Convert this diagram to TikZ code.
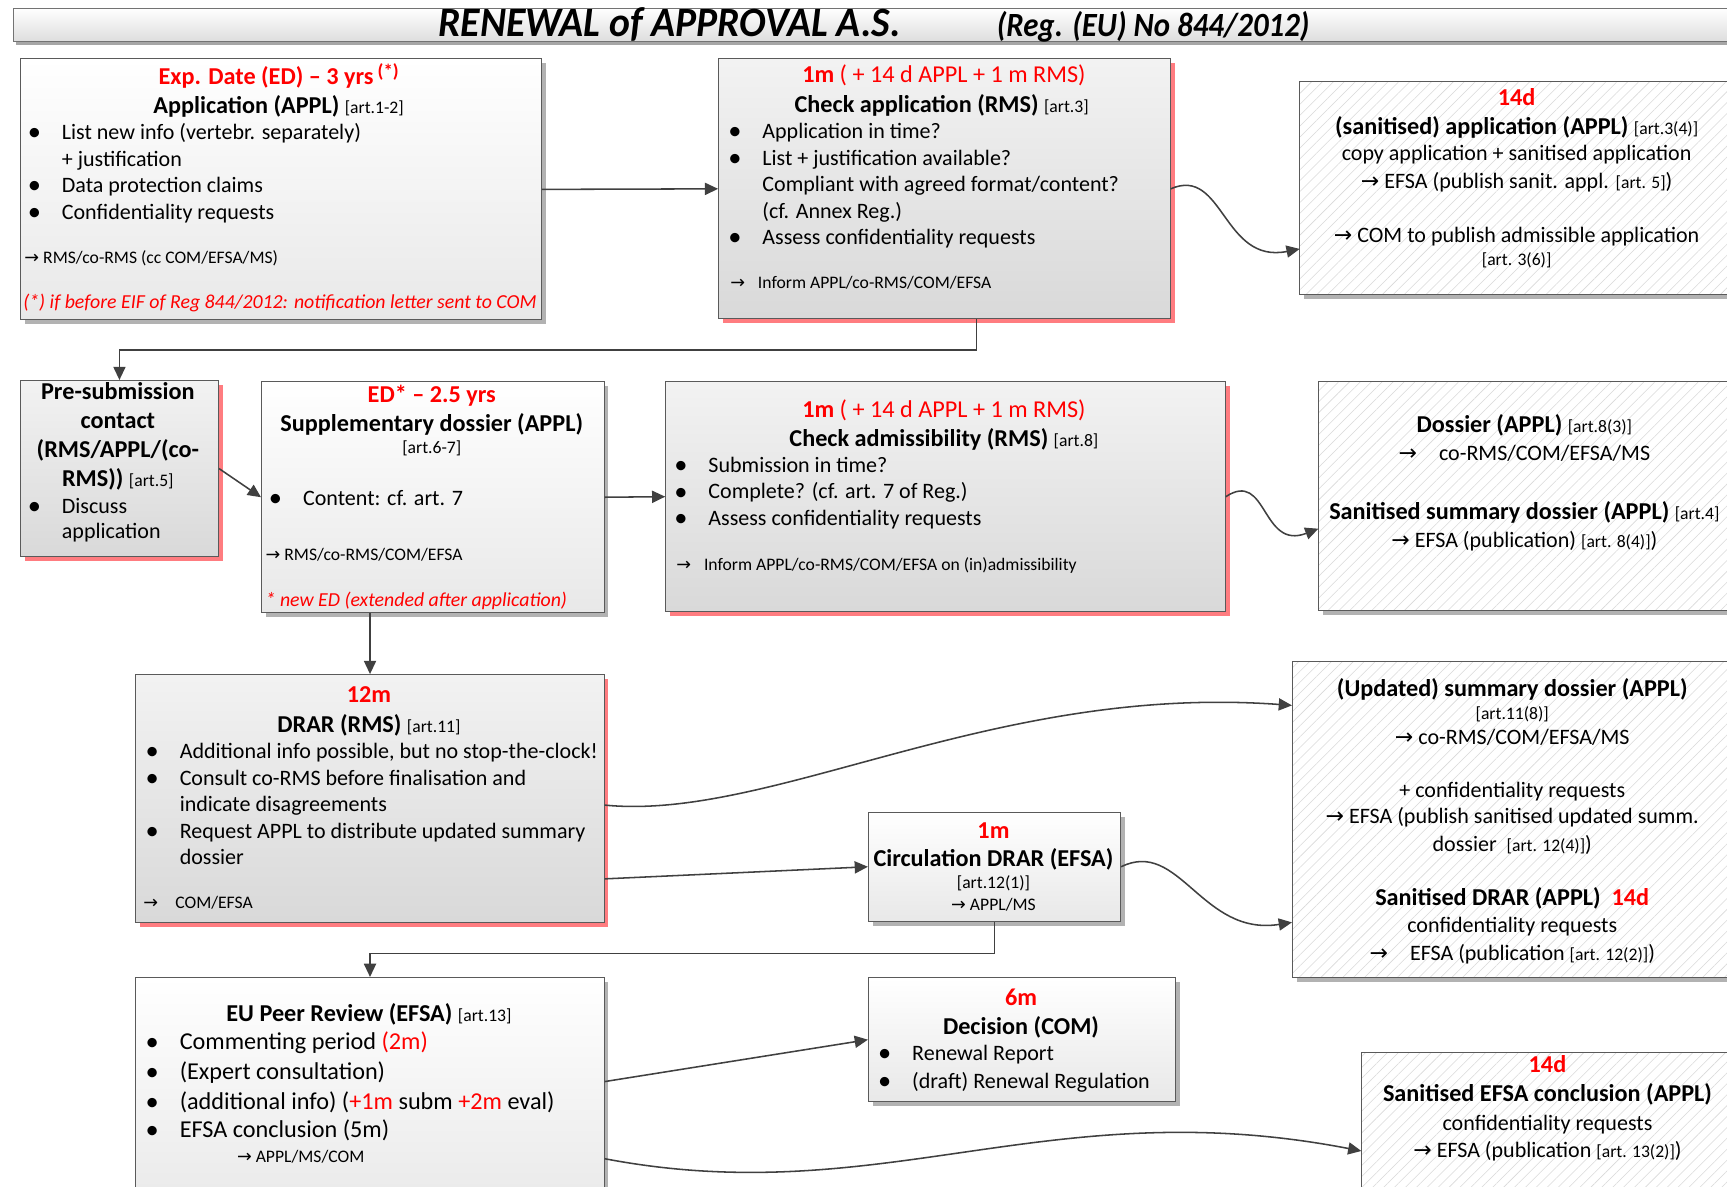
\documentclass[tikz,border=0pt]{standalone}
\usepackage{fontspec}
\usepackage{graphicx}
\setmainfont{Carlito}
\newfontfamily\arrfont{DejaVu Sans}
\usetikzlibrary{arrows.meta,shadows,patterns.meta,calc}
\definecolor{shred}{HTML}{FF7C80}
\definecolor{bord}{HTML}{5A5A5A}
\definecolor{connc}{HTML}{404040}
\newcommand\rd[1]{\textcolor{red}{#1}}
\newcommand\arr{{\arrfont →}}
\newcommand\artref[1]{{\mdseries\upshape\fontsize{16}{19}\selectfont #1}}
\newcommand\bl{\makebox[31pt][l]{\raisebox{-1pt}{\fontsize{24}{24}\selectfont •}}}
\newcommand\nb{\hspace*{31pt}}
\tikzset{
  box/.style={draw=bord, line width=0.9pt, inner sep=0pt, anchor=north west},
  gbox/.style={box, top color=black!5, bottom color=black!15,
    drop shadow={shadow xshift=4pt, shadow yshift=-4pt, fill=shred, opacity=1}},
  wbox/.style={box, top color=white, bottom color=black!9,
    drop shadow={shadow xshift=4pt, shadow yshift=-4pt, fill=black!30, opacity=1}},
  hbox/.style={box, drop shadow={shadow xshift=4pt, shadow yshift=-4pt, fill=black!30, opacity=1},
    preaction={fill=white}, pattern={Lines[angle=45,distance=7pt,line width=0.5pt]}, pattern color=black!15},
  body/.style={font=\fontsize{20}{24}\selectfont, inner sep=0pt},
  bodyL/.style={font=\fontsize{22}{26}\selectfont, inner sep=0pt},
  hd/.style={font=\bfseries\fontsize{22}{26}\selectfont, inner sep=0pt},
  sm/.style={font=\fontsize{16}{19}\selectfont, inner sep=0pt},
  itr/.style={font=\itshape\fontsize{18}{21}\selectfont, inner sep=0pt, text=red},
  rtitle/.style={font=\mdseries\fontsize{22}{26}\selectfont, inner sep=0pt, text=red},
  conn/.style={draw=connc, line width=1.4pt, -{Triangle[length=12pt,width=11pt]}},
}
\begin{document}
\begin{tikzpicture}[x=1pt,y=-1pt]
\useasboundingbox (0,0) rectangle (1568,1077);
\clip (0,0) rectangle (1568,1077);
\fill[white] (0,0) rectangle (1568,1077);

% title bar
\node[box, top color=white, bottom color=black!13, draw=black!55, minimum width=1600pt, minimum height=30pt,
  drop shadow={shadow xshift=2pt, shadow yshift=-3pt, fill=black!35, opacity=1}] (title) at (12,7) {};
\node[font=\bfseries\itshape\fontsize{36}{36}\selectfont, anchor=base, inner sep=0pt] (tt1) at (608,33) {\scalebox{1}[1.05]{RENEWAL of APPROVAL A.S.}};
\node[font=\bfseries\itshape\fontsize{28}{28}\selectfont, anchor=base, inner sep=0pt] (tt2) at (1047,33) {\scalebox{1}[1.1]{(Reg. (EU) No 844/2012)}};

% boxes
\node[wbox, minimum width=473pt, minimum height=237pt] (b1) at (18,53) {};
\node[gbox, minimum width=410pt, minimum height=236pt] (b2) at (652,53) {};
\node[hbox, minimum width=420pt, minimum height=193pt] (b3) at (1180,74) {};
\node[gbox, minimum width=180pt, minimum height=160pt] (b4) at (18,345) {};
\node[wbox, minimum width=311pt, minimum height=210pt] (b5) at (237,346) {};
\node[gbox, minimum width=508pt, minimum height=209pt] (b6) at (604,346) {};
\node[hbox, minimum width=400pt, minimum height=208pt] (b7) at (1197,346) {};
\node[gbox, minimum width=425pt, minimum height=225pt] (b8) at (123,612) {};
\node[hbox, minimum width=420pt, minimum height=287pt] (b9) at (1173,600) {};
\node[wbox, minimum width=229pt, minimum height=99pt] (b10) at (788,737) {};
\node[wbox, minimum width=425pt, minimum height=220pt] (b11) at (123,887) {};
\node[wbox, minimum width=279pt, minimum height=113pt] (b12) at (788,887) {};
\node[hbox, minimum width=360pt, minimum height=150pt] (b13) at (1236,955) {};

% connectors
\draw[conn] (b1.east) -- (b2.west);
\draw[conn] ([xshift=29pt]b2.south) -- ++(0,28) -| (b4.north);
\draw[conn] (b4.east) -- (b5.west);
\draw[conn] (b5.east) -- (b6.west);
\draw[conn] (b8.north |- b5.south) -- (b8.north);
\draw[conn] ([yshift=-73pt]b8.east) -- (b10.west);
\draw[conn] (b10.south) -- ++(0,29) -| (b11.north);
\draw[conn] ([yshift=-95pt]b11.north east) -- (b12.west);
\draw[conn] (b2.east) .. controls +(48,-21) and +(-70,14) .. ([yshift=-152pt]b3.north west);
\draw[conn] (b6.east) .. controls +(38,-25) and +(-52,20) .. ([yshift=-134pt]b7.north west);
\draw[conn] ([yshift=-6pt]b8.east) .. controls +(152,15) and +(-272,-20) .. ([yshift=103.5pt]b9.west);
\draw[conn] (b10.east) .. controls +(53,-26) and +(-82,13) .. ([yshift=-93.5pt]b9.west);
\draw[conn] ([yshift=-165pt]b11.north east) .. controls +(252,48) and +(-285,-55) .. ([yshift=-90pt]b13.north west);

% box 1
\node[hd, text=red, anchor=base] (t1a) at (253,77) {Exp. Date (ED) – 3 yrs\,\raisebox{7pt}{\fontsize{17}{17}\selectfont(*)}};
\node[hd, anchor=base] (t1b) at (253,103) {Application (APPL) \artref{[art.1-2]}};
\node[body, anchor=base west] (t1c) at (25,127) {\bl List new info (vertebr. separately)};
\node[body, anchor=base west] (t1d) at (25,151) {\nb + justification};
\node[body, anchor=base west] (t1e) at (25,175) {\bl Data protection claims};
\node[body, anchor=base west] (t1f) at (25,199) {\bl Confidentiality requests};
\node[sm, anchor=base west] (t1g) at (22,239) {\arr\ RMS/co-RMS (cc COM/EFSA/MS)};
\node[itr, anchor=base west] (t1h) at (21,280) {(*) if before EIF of Reg 844/2012: notification letter sent to COM};

% box 2
\node[rtitle, anchor=base] (t2a) at (857,75) {\textbf{1m} ( + 14 d APPL + 1 m RMS)};
\node[hd, anchor=base] (t2b) at (855,102) {Check application (RMS) \artref{[art.3]}};
\node[body, anchor=base west] (t2c) at (661,126) {\bl Application in time?};
\node[body, anchor=base west] (t2d) at (661,150) {\bl List + justification available?};
\node[body, anchor=base west] (t2e) at (661,174) {\nb Compliant with agreed format/content?};
\node[body, anchor=base west] (t2f) at (661,198) {\nb (cf. Annex Reg.)};
\node[body, anchor=base west] (t2g) at (661,222) {\bl Assess confidentiality requests};
\node[sm, anchor=base west] (t2h) at (663,262) {\makebox[25pt][l]{\arr}Inform APPL/co-RMS/COM/EFSA};

% box 3
\node[hd, text=red, anchor=base] (t3a) at (1377,96) {14d};
\node[hd, anchor=base] (t3b) at (1377,122) {(sanitised) application (APPL) \artref{[art.3(4)]}};
\node[body, anchor=base] (t3c) at (1377,146) {copy application + sanitised application};
\node[body, anchor=base] (t3d) at (1377,171) {\arr\ EFSA (publish sanit. appl. \artref{[art. 5]})};
\node[body, anchor=base] (t3e) at (1377,220) {\arr\ COM to publish admissible application};
\node[sm, anchor=base] (t3f) at (1377,241) {[art. 3(6)]};

% box 4
\node[hd, anchor=base] (t4a) at (107,363) {Pre-submission};
\node[hd, anchor=base] (t4b) at (107,389) {contact};
\node[hd, anchor=base] (t4c) at (107,415) {(RMS/APPL/(co-};
\node[hd, anchor=base] (t4d) at (107,442) {RMS)) \artref{[art.5]}};
\node[body, anchor=base west] (t4e) at (25,466) {\bl Discuss};
\node[body, anchor=base west] (t4f) at (25,489) {\nb application};

% box 5
\node[hd, text=red, anchor=base] (t5a) at (392,365) {ED* – 2.5 yrs};
\node[hd, anchor=base] (t5b) at (392,392) {Supplementary dossier (APPL)};
\node[sm, anchor=base] (t5c) at (392,412) {[art.6-7]};
\node[body, anchor=base west] (t5d) at (244,459) {\bl Content: cf. art. 7};
\node[sm, anchor=base west] (t5e) at (241,509) {\arr\ RMS/co-RMS/COM/EFSA};
\node[itr, anchor=base west] (t5f) at (241,551) {* new ED (extended after application)};

% box 6
\node[rtitle, anchor=base] (t6a) at (857,379) {\textbf{1m} ( + 14 d APPL + 1 m RMS)};
\node[hd, anchor=base] (t6b) at (857,405) {Check admissibility (RMS) \artref{[art.8]}};
\node[body, anchor=base west] (t6c) at (612,429) {\bl Submission in time?};
\node[body, anchor=base west] (t6d) at (612,453) {\bl Complete? (cf. art. 7 of Reg.)};
\node[body, anchor=base west] (t6e) at (612,477) {\bl Assess confidentiality requests};
\node[sm, anchor=base west] (t6f) at (614,518) {\makebox[25pt][l]{\arr}Inform APPL/co-RMS/COM/EFSA on (in)admissibility};

% box 7
\node[hd, anchor=base] (t7a) at (1384,393) {Dossier (APPL) \artref{[art.8(3)]}};
\node[body, anchor=base] (t7b) at (1384,418) {\arr\quad co-RMS/COM/EFSA/MS};
\node[hd, anchor=base] (t7c) at (1384,472) {Sanitised summary dossier (APPL) \artref{[art.4]}};
\node[body, anchor=base] (t7d) at (1384,497) {\arr\ EFSA (publication) \artref{[art. 8(4)]})};

% box 8
\node[hd, text=red, anchor=base] (t8a) at (335,638) {12m};
\node[hd, anchor=base] (t8b) at (335,665) {DRAR (RMS) \artref{[art.11]}};
\node[body, anchor=base west] (t8c) at (132,689) {\bl Additional info possible, but no stop-the-clock!};
\node[body, anchor=base west] (t8d) at (132,713) {\bl Consult co-RMS before finalisation and};
\node[body, anchor=base west] (t8e) at (132,737) {\nb indicate disagreements};
\node[body, anchor=base west] (t8f) at (132,761) {\bl Request APPL to distribute updated summary};
\node[body, anchor=base west] (t8g) at (132,785) {\nb dossier};
\node[sm, anchor=base west] (t8h) at (130,825) {\makebox[29pt][l]{\arr}COM/EFSA};

% box 9
\node[hd, anchor=base] (t9a) at (1373,632) {(Updated) summary dossier (APPL)};
\node[sm, anchor=base] (t9b) at (1373,653) {[art.11(8)]};
\node[body, anchor=base] (t9c) at (1373,676) {\arr\ co-RMS/COM/EFSA/MS};
\node[body, anchor=base] (t9d) at (1373,724) {+ confidentiality requests};
\node[body, anchor=base] (t9e) at (1373,748) {\arr\ EFSA (publish sanitised updated summ.};
\node[body, anchor=base] (t9f) at (1373,773) {dossier\ \ \artref{[art. 12(4)]})};
\node[hd, anchor=base] (t9g) at (1373,822) {Sanitised DRAR (APPL)\ \ \rd{14d}};
\node[body, anchor=base] (t9h) at (1373,847) {confidentiality requests};
\node[body, anchor=base] (t9i) at (1373,872) {\arr\quad EFSA (publication \artref{[art. 12(2)]})};

% box 10
\node[hd, text=red, anchor=base] (t10a) at (902,761) {1m};
\node[hd, anchor=base] (t10b) at (902,787) {Circulation DRAR (EFSA)};
\node[sm, anchor=base] (t10c) at (902,807) {[art.12(1)]};
\node[sm, anchor=base] (t10d) at (902,827) {\arr\ APPL/MS};

% box 11
\node[hd, anchor=base] (t11a) at (335,927) {EU Peer Review (EFSA) \artref{[art.13]}};
\node[bodyL, anchor=base west] (t11b) at (132,953) {\bl Commenting period \rd{(2m)}};
\node[bodyL, anchor=base west] (t11c) at (132,980) {\bl (Expert consultation)};
\node[bodyL, anchor=base west] (t11d) at (132,1007) {\bl (additional info) (\rd{+1m} subm \rd{+2m} eval)};
\node[bodyL, anchor=base west] (t11e) at (132,1033) {\bl EFSA conclusion (5m)};
\node[sm, anchor=base west] (t11f) at (215,1055) {\arr\ APPL/MS/COM};

% box 12
\node[hd, text=red, anchor=base] (t12a) at (927,913) {6m};
\node[hd, anchor=base] (t12b) at (927,939) {Decision (COM)};
\node[body, anchor=base west] (t12c) at (797,963) {\bl Renewal Report};
\node[body, anchor=base west] (t12d) at (797,988) {\bl (draft) Renewal Regulation};

% box 13
\node[hd, text=red, anchor=base] (t13a) at (1405,974) {14d};
\node[hd, anchor=base] (t13b) at (1405,1000) {Sanitised EFSA conclusion (APPL)};
\node[body, anchor=base] (t13c) at (1405,1026) {confidentiality requests};
\node[body, anchor=base] (t13d) at (1405,1051) {\arr\ EFSA (publication \artref{[art. 13(2)]})};
\end{tikzpicture}
\end{document}
